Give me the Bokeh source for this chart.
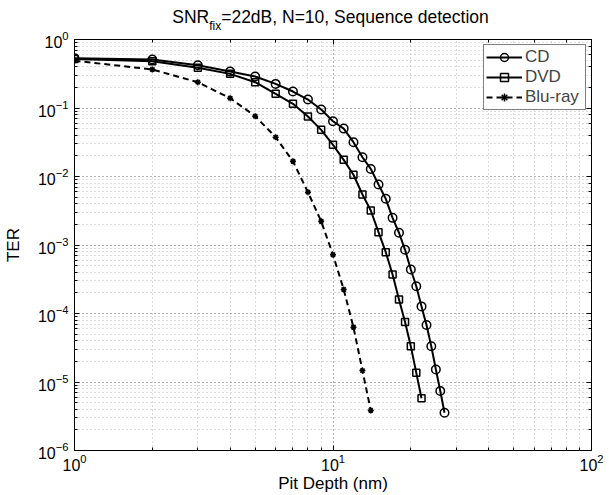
from bokeh.plotting import figure
from bokeh.models import LogAxis, CustomJSTickFormatter, Legend, Div
from bokeh.layouts import column
from bokeh.embed import file_html
from bokeh.resources import INLINE

# ---- data ----
pit_cd = [1, 2, 3, 4, 5, 6, 7, 8, 9, 10, 11, 12, 13, 14, 15, 16, 17, 18, 19, 20,
          21, 22, 23, 24, 25, 26, 27]
ter_cd = [0.534, 0.51, 0.42, 0.34, 0.288, 0.225, 0.174, 0.133, 0.095, 0.064, 0.050,
          0.0317, 0.0191, 0.0129, 0.00764, 0.00472, 0.00249, 1.51e-3, 8.5e-4, 4.39e-4,
          2.5e-4, 1.27e-4, 6.8e-5, 3.33e-5, 1.52e-5, 7.4e-6, 3.55e-6]

pit_dvd = [1, 2, 3, 4, 5, 6, 7, 8, 9, 10, 11, 12, 13, 14, 15, 16, 17, 18, 19, 20, 21, 22]
ter_dvd = [0.52, 0.48, 0.386, 0.315, 0.238, 0.161, 0.115, 0.075, 0.048, 0.029, 0.0175,
           0.0106, 0.00546, 0.00319, 1.54e-3, 7.85e-4, 3.71e-4, 1.6e-4, 7.5e-5, 3.33e-5,
           1.36e-5, 5.8e-6]

pit_bd = [1, 2, 3, 4, 5, 6, 7, 8, 9, 10, 11, 12, 13, 14]
ter_bd = [0.49, 0.365, 0.238, 0.139, 0.076, 0.0375, 0.0167, 5.9e-3, 2.22e-3, 7.2e-4,
          2.24e-4, 6.3e-5, 1.47e-5, 3.84e-6]

series_names = ["CD", "DVD", "Blu-ray"]
title_main = "SNR"
title_sub = "fix"
title_rest = "=22dB, N=10, Sequence detection"
x_label = "Pit Depth (nm)"
y_label = "TER"

FONT = "Liberation Sans"

title_div = Div(
    text=(f'<div style="width:521px;margin-left:70px;text-align:center;'
          f"font-family:'{FONT}';font-size:17.5px;line-height:18px;padding-top:8px;"
          f'color:black;white-space:nowrap">{title_main}'
          f'<span style="position:relative;top:7px;font-size:12px">{title_sub}</span>'
          f'{title_rest}</div>'),
    width=609, height=30, margin=0)

p = figure(width=609, height=465, x_axis_type="log", y_axis_type="log",
           x_range=(1, 100), y_range=(1e-6, 1),
           output_backend="svg", toolbar_location=None,
           min_border_left=70, min_border_right=18, min_border_top=9, min_border_bottom=45)
p.margin = 0

p.outline_line_color = "black"
p.outline_line_width = 1

for ax in (p.xaxis[0], p.yaxis[0]):
    ax.major_tick_in = 5
    ax.major_tick_out = 0
    ax.minor_tick_in = 3
    ax.minor_tick_out = 0
    ax.major_label_text_font = FONT
    ax.major_label_text_font_size = "16px"
    ax.major_label_text_color = "black"
    ax.axis_label_text_font = FONT
    ax.axis_label_text_font_size = "17px"
    ax.axis_label_text_font_style = "normal"
    ax.axis_label_text_color = "black"
    ax.axis_line_color = "black"
    ax.major_tick_line_color = "black"
    ax.minor_tick_line_color = "black"

p.xaxis.axis_label = x_label
p.yaxis.axis_label = y_label
p.xaxis.major_label_standoff = 3
p.xaxis.axis_label_standoff = 0
p.yaxis.major_label_standoff = 6
p.yaxis.axis_label_standoff = 12

for side in ("above", "right"):
    ax = LogAxis(formatter=CustomJSTickFormatter(code="return ''"),
                 major_tick_in=5, major_tick_out=0, minor_tick_in=3, minor_tick_out=0,
                 major_label_standoff=0, major_label_text_font_size="0px",
                 axis_line_color="black",
                 major_tick_line_color="black", minor_tick_line_color="black")
    p.add_layout(ax, side)

for g in (p.xgrid[0], p.ygrid[0]):
    g.grid_line_color = "#999999"
    g.grid_line_dash = "1 3"
    g.grid_line_width = 1
    g.minor_grid_line_color = "#b8b8b8"
    g.minor_grid_line_dash = "1 3"
    g.minor_grid_line_width = 1

r1 = p.line(pit_cd, ter_cd, line_color="black", line_width=2)
m1 = p.scatter(pit_cd, ter_cd, marker="circle", size=8.5, line_color="black",
               fill_color=None, line_width=1.5)
r2 = p.line(pit_dvd, ter_dvd, line_color="black", line_width=2)
m2 = p.scatter(pit_dvd, ter_dvd, marker="square", size=7, line_color="black",
               fill_color=None, line_width=1.5)
r3 = p.line(pit_bd, ter_bd, line_color="black", line_width=2, line_dash="6 4")
m3 = p.scatter(pit_bd, ter_bd, marker="asterisk", size=6, line_color="black",
               line_width=1.5)

legend = Legend(items=[(series_names[0], [r1, m1]),
                       (series_names[1], [r2, m2]),
                       (series_names[2], [r3, m3])],
                location="top_right", margin=5, padding=2, spacing=0,
                label_height=20, glyph_height=20, glyph_width=36, label_standoff=3,
                label_width=58,
                label_text_font=FONT, label_text_font_size="17px",
                border_line_color="black", border_line_width=1,
                background_fill_color="white", background_fill_alpha=1)
p.add_layout(legend)

layout = column(title_div, p, spacing=0)
layout.margin = 0

open("out.html", "w").write(file_html(layout, INLINE))
